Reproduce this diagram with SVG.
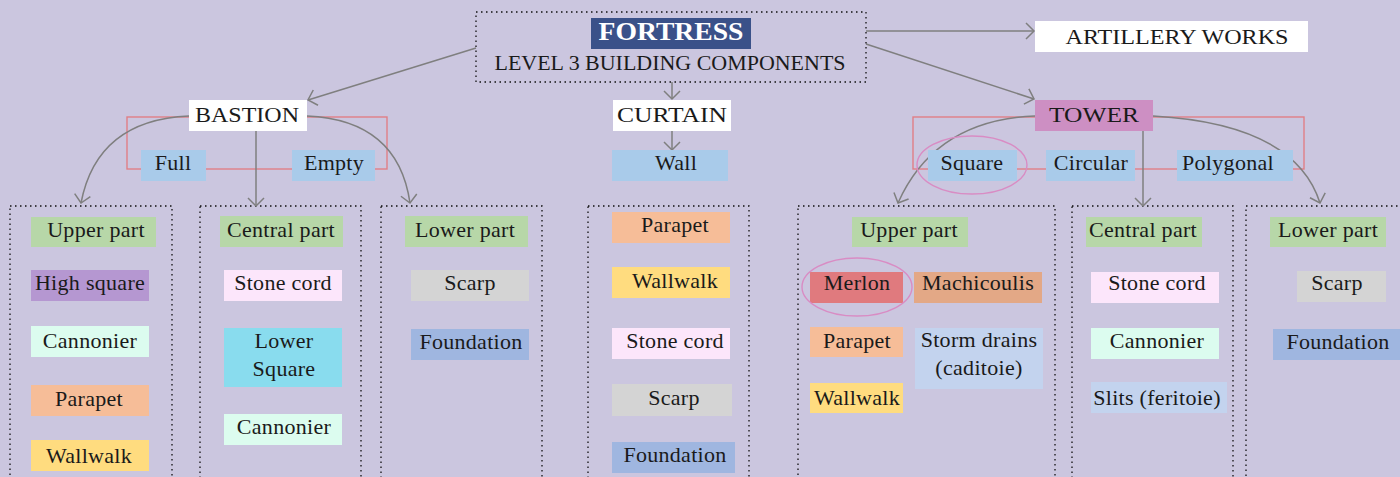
<svg xmlns="http://www.w3.org/2000/svg" width="1400" height="477" viewBox="0 0 1400 477">
  <style>
    text { font-family: "Liberation Serif", "Times New Roman", serif; fill: #1a1a1a; font-size: 22px; letter-spacing: 0.3px; text-anchor: middle; }
    .cap { font-size: 22px; letter-spacing: 0; }
    .link { fill: none; stroke: #7f7f7f; stroke-width: 1.5; }
    .group { fill: none; stroke: #111; stroke-width: 1.3; stroke-dasharray: 1.5 3.5; }
    .frame { fill: none; stroke: #e07f86; stroke-width: 1.4; }
    .ring { fill: none; stroke: #d98cc4; stroke-width: 1.4; }
    .white { fill: #ffffff; }
    .green { fill: #b7d7a8; }
    .purple { fill: #b597d1; }
    .mint { fill: #dcfcef; }
    .peach { fill: #f6bd98; }
    .yellow { fill: #ffdc7f; }
    .pink { fill: #fce6fb; }
    .cyan { fill: #89dcee; }
    .grey { fill: #d4d4d4; }
    .found { fill: #9fb6e0; }
    .sky { fill: #a9cbea; }
    .merlon { fill: #e07a7e; }
    .machi { fill: #e3a886; }
    .pale { fill: #c3d3ee; }
    .tower { fill: #cd8fc3; }
  </style>
  <defs>
    <marker id="arrow" viewBox="-10 -10 12 20" refX="0" refY="0" markerWidth="12" markerHeight="20" markerUnits="userSpaceOnUse" orient="auto">
      <path d="M-8,-8 L0,0 L-8,8" fill="none" stroke="#7f7f7f" stroke-width="1.5"/>
    </marker>
  </defs>

  <rect width="1400" height="477" fill="#cbc6df"/>

  <!-- dotted component groups -->
  <g id="groups">
    <rect class="group" x="10" y="206" width="162" height="290"/>
    <rect class="group" x="200" y="206" width="161" height="290"/>
    <rect class="group" x="381" y="206" width="161" height="290"/>
    <rect class="group" x="588" y="206" width="161" height="290"/>
    <rect class="group" x="798" y="206" width="257" height="290"/>
    <rect class="group" x="1072" y="206" width="161" height="290"/>
    <rect class="group" x="1246" y="206" width="180" height="290"/>
  </g>

  <!-- type frames -->
  <rect class="frame" x="127" y="117" width="260" height="52"/>
  <rect class="frame" x="913" y="117" width="391" height="52"/>

  <g id="connectors">
    <path class="link" d="M476,48 L308,100" marker-end="url(#arrow)"/>
    <path class="link" d="M672,82 L672,99" marker-end="url(#arrow)"/>
    <path class="link" d="M866,31 L1034,31" marker-end="url(#arrow)"/>
    <path class="link" d="M866,44 L1034,99" marker-end="url(#arrow)"/>
    <path class="link" d="M672,131 L672,150" marker-end="url(#arrow)"/>
    <path class="link" d="M256,131 L256,206" marker-end="url(#arrow)"/>
    <path class="link" d="M189,116 Q97,120 81,203" marker-end="url(#arrow)"/>
    <path class="link" d="M307,116 Q398,120 410,203" marker-end="url(#arrow)"/>
    <path class="link" d="M1143,131 L1143,206" marker-end="url(#arrow)"/>
    <path class="link" d="M1035,116 Q935,120 898,203" marker-end="url(#arrow)"/>
    <path class="link" d="M1153,116 Q1295,124 1320,203" marker-end="url(#arrow)"/>
  </g>

  <g id="fortress">
    <rect class="group" x="476" y="12" width="390" height="70"/>
    <rect x="591" y="18" width="160" height="31" fill="#3a5189"/>
    <text x="671" y="40" style="fill:#ffffff;font-weight:bold;font-size:25px;letter-spacing:0" textLength="145" lengthAdjust="spacingAndGlyphs">FORTRESS</text>
    <text x="670" y="70" style="font-size:20px;letter-spacing:0" textLength="351" lengthAdjust="spacingAndGlyphs">LEVEL 3 BUILDING COMPONENTS</text>
  </g>

  <g id="artillery">
    <rect class="white" x="1035" y="21" width="273" height="31"/>
    <text class="cap" x="1177" y="44" textLength="223" lengthAdjust="spacingAndGlyphs">ARTILLERY WORKS</text>
  </g>

  <!-- bastion -->
  <g id="bastion">
    <rect class="white" x="189" y="100" width="118" height="31"/>
    <text class="cap" x="247" y="122" textLength="104" lengthAdjust="spacingAndGlyphs">BASTION</text>
  </g>
  <g id="bastion-full"><rect class="sky" x="141" y="150" width="65" height="31"/><text x="173" y="170">Full</text></g>
  <g id="bastion-empty"><rect class="sky" x="292" y="150" width="83" height="31"/><text x="334" y="170">Empty</text></g>

  <g id="bastion-upper"><rect class="green" x="31" y="217" width="125" height="30"/><text x="96" y="237">Upper part</text></g>
  <g id="bastion-highsquare"><rect class="purple" x="31" y="270" width="118" height="31"/><text x="90" y="290">High square</text></g>
  <g id="bastion-cannonier1"><rect class="mint" x="31" y="326" width="118" height="31"/><text x="90" y="348">Cannonier</text></g>
  <g id="bastion-parapet"><rect class="peach" x="31" y="385" width="118" height="31"/><text x="89" y="406">Parapet</text></g>
  <g id="bastion-wallwalk"><rect class="yellow" x="31" y="440" width="118" height="31"/><text x="89" y="463">Wallwalk</text></g>

  <g id="bastion-central"><rect class="green" x="220" y="216" width="123" height="31"/><text x="281" y="237">Central part</text></g>
  <g id="bastion-stonecord"><rect class="pink" x="224" y="270" width="118" height="31"/><text x="283" y="290">Stone cord</text></g>
  <g id="bastion-lowersquare"><rect class="cyan" x="224" y="328" width="118" height="59"/><text x="284" y="348">Lower</text><text x="284" y="376">Square</text></g>
  <g id="bastion-cannonier2"><rect class="mint" x="224" y="414" width="118" height="31"/><text x="284" y="434">Cannonier</text></g>

  <g id="bastion-lower"><rect class="green" x="405" y="216" width="123" height="31"/><text x="465" y="237">Lower part</text></g>
  <g id="bastion-scarp"><rect class="grey" x="411" y="270" width="118" height="31"/><text x="470" y="290">Scarp</text></g>
  <g id="bastion-foundation"><rect class="found" x="411" y="329" width="118" height="31"/><text x="471" y="349">Foundation</text></g>

  <!-- curtain -->
  <g id="curtain">
    <rect class="white" x="613" y="100" width="118" height="31"/>
    <text class="cap" x="672" y="122" textLength="110" lengthAdjust="spacingAndGlyphs">CURTAIN</text>
  </g>
  <g id="curtain-wall"><rect class="sky" x="612" y="150" width="116" height="31"/><text x="676" y="170">Wall</text></g>
  <g id="curtain-parapet"><rect class="peach" x="612" y="212" width="118" height="31"/><text x="675" y="232">Parapet</text></g>
  <g id="curtain-wallwalk"><rect class="yellow" x="612" y="267" width="118" height="31"/><text x="675" y="288">Wallwalk</text></g>
  <g id="curtain-stonecord"><rect class="pink" x="612" y="328" width="118" height="31"/><text x="675" y="348">Stone cord</text></g>
  <g id="curtain-scarp"><rect class="grey" x="612" y="384" width="120" height="32"/><text x="674" y="405">Scarp</text></g>
  <g id="curtain-foundation"><rect class="found" x="612" y="442" width="123" height="31"/><text x="675" y="462">Foundation</text></g>

  <!-- tower -->
  <g id="tower">
    <rect class="tower" x="1035" y="100" width="118" height="31"/>
    <text class="cap" x="1094" y="122" textLength="90" lengthAdjust="spacingAndGlyphs">TOWER</text>
  </g>
  <g id="tower-square"><rect class="sky" x="928" y="150" width="89" height="31"/><text x="972" y="170">Square</text></g>
  <g id="tower-circular"><rect class="sky" x="1046" y="150" width="89" height="31"/><text x="1091" y="170">Circular</text></g>
  <g id="tower-polygonal"><rect class="sky" x="1177" y="150" width="116" height="31"/><text x="1228" y="170">Polygonal</text></g>
  <ellipse class="ring" cx="972" cy="165" rx="55" ry="29"/>

  <g id="tower-upper"><rect class="green" x="852" y="217" width="116" height="30"/><text x="909" y="237">Upper part</text></g>
  <g id="tower-merlon"><rect class="merlon" x="810" y="272" width="93" height="31"/><text x="857" y="290">Merlon</text></g>
  <g id="tower-machicoulis"><rect class="machi" x="914" y="272" width="128" height="31"/><text x="978" y="290">Machicoulis</text></g>
  <ellipse class="ring" cx="857" cy="287" rx="55" ry="29"/>
  <g id="tower-parapet"><rect class="peach" x="810" y="327" width="93" height="30"/><text x="857" y="348">Parapet</text></g>
  <g id="tower-stormdrains"><rect class="pale" x="915" y="328" width="128" height="61"/><text x="979" y="347">Storm drains</text><text x="979" y="375">(caditoie)</text></g>
  <g id="tower-wallwalk"><rect class="yellow" x="810" y="383" width="93" height="30"/><text x="857" y="405">Wallwalk</text></g>

  <g id="tower-central"><rect class="green" x="1086" y="217" width="116" height="30"/><text x="1143" y="237">Central part</text></g>
  <g id="tower-stonecord"><rect class="pink" x="1091" y="272" width="128" height="31"/><text x="1157" y="290">Stone cord</text></g>
  <g id="tower-cannonier"><rect class="mint" x="1091" y="328" width="128" height="31"/><text x="1157" y="348">Cannonier</text></g>
  <g id="tower-slits"><rect class="pale" x="1091" y="382" width="136" height="31"/><text x="1157" y="405">Slits (feritoie)</text></g>

  <g id="tower-lower"><rect class="green" x="1270" y="217" width="116" height="30"/><text x="1328" y="237">Lower part</text></g>
  <g id="tower-scarp"><rect class="grey" x="1297" y="271" width="89" height="31"/><text x="1337" y="290">Scarp</text></g>
  <g id="tower-foundation"><rect class="found" x="1273" y="329" width="140" height="31"/><text x="1338" y="349">Foundation</text></g>
</svg>
